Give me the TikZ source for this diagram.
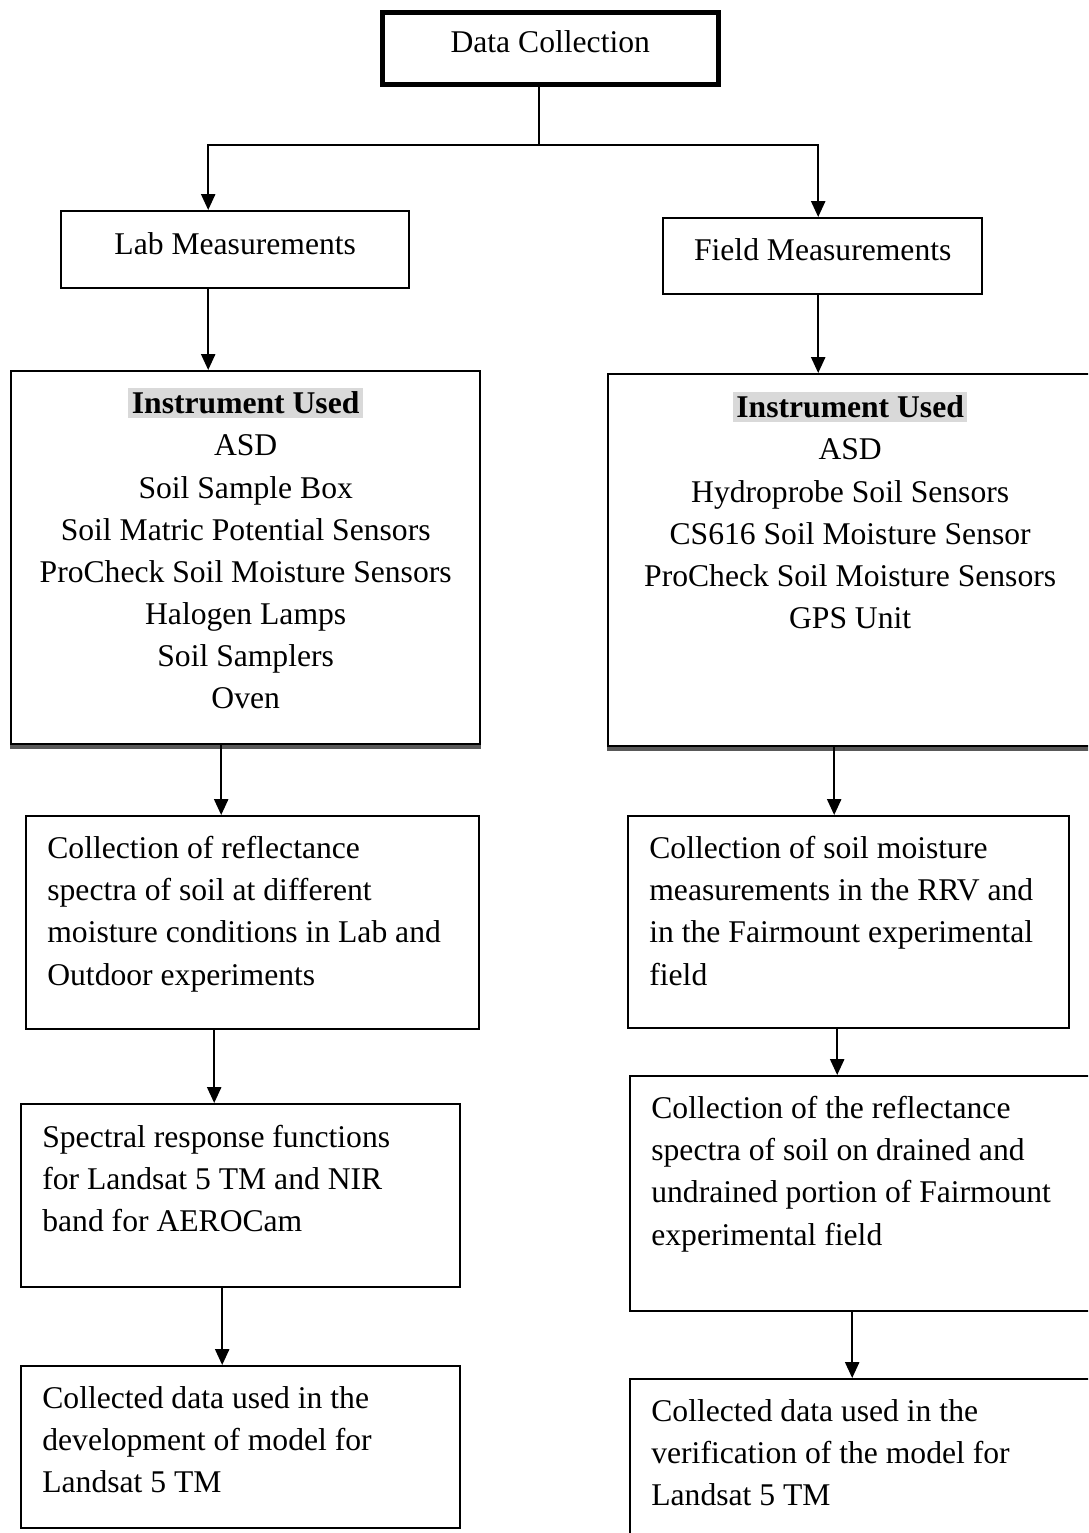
\documentclass[tikz,border=0pt]{standalone}
\usepackage{fontspec}
\setmainfont{Liberation Serif}
\usepackage{tikz}
\usetikzlibrary{arrows.meta}
\setlength{\fboxsep}{2pt}

\begin{document}
\begin{tikzpicture}[x=0.02cm,y=-0.02cm,
    every node/.style={font=\fontsize{18}{24}\selectfont},
    bx/.style={draw,line width=1.4pt,inner sep=0pt,anchor=north west},
    hd/.style={text height=12pt,text depth=7pt},
    tx/.style={align=left,inner sep=0pt,anchor=north west},
    lst/.style={align=center,inner sep=0pt,anchor=north},
    ar/.style={line width=1.1pt,-{Triangle[width=8pt,length=9pt]}},
    shd/.style={line width=2.4pt,black!65}]
    \clip (0,0) rectangle (1088,1533);

    \node[bx,hd,line width=2.6pt,minimum width=6.72cm,minimum height=1.44cm] (top) at (380,10) {Data Collection};
    \node[bx,hd,minimum width=6.96cm,minimum height=1.54cm] (la) at (60,210) {Lab Measurements};
    \node[bx,hd,minimum width=6.38cm,minimum height=1.52cm] (ra) at (662,217) {Field Measurements};
    \node[bx,minimum width=9.38cm,minimum height=7.46cm] (lb) at (10,370) {};
    \node[bx,minimum width=9.68cm,minimum height=7.44cm] (rb) at (607,373) {};
    \node[bx,minimum width=9.06cm,minimum height=4.26cm] (lc) at (25,815) {};
    \node[bx,minimum width=8.82cm,minimum height=4.24cm] (rc) at (627,815) {};
    \node[bx,minimum width=8.78cm,minimum height=3.66cm] (ld) at (20,1103) {};
    \node[bx,minimum width=9.40cm,minimum height=4.70cm] (rd) at (629,1075) {};
    \node[bx,minimum width=8.78cm,minimum height=3.24cm] (le) at (20,1365) {};
    \node[bx,minimum width=9.40cm,minimum height=3.60cm] (re) at (629,1378) {};

    \draw[shd] ([yshift=-1pt]lb.south west) -- ([yshift=-1pt]lb.south east);
    \draw[shd] ([yshift=-1pt]rb.south west) -- ([yshift=-1pt]rb.south east);

    \node[lst] (lbt) at ([yshift=-0.36cm]lb.north) {\colorbox{gray!30}{\bfseries Instrument Used}\\ASD\\Soil Sample Box\\Soil Matric Potential Sensors\\ProCheck Soil Moisture Sensors\\Halogen Lamps\\Soil Samplers\\Oven};
    \node[lst] (rbt) at ([yshift=-0.38cm]rb.north) {\colorbox{gray!30}{\bfseries Instrument Used}\\ASD\\Hydroprobe Soil Sensors\\CS616 Soil Moisture Sensor\\ProCheck Soil Moisture Sensors\\GPS Unit};

    \node[tx] (lct) at ([shift={(0.44cm,-0.42cm)}]lc.north west) {Collection of reflectance\\spectra of soil at different\\moisture conditions in Lab and\\Outdoor experiments};
    \node[tx] (rct) at ([shift={(0.44cm,-0.42cm)}]rc.north west) {Collection of soil moisture\\measurements in the RRV and\\in the Fairmount experimental\\field};
    \node[tx] (ldt) at ([shift={(0.44cm,-0.44cm)}]ld.north west) {Spectral response functions\\for Landsat 5 TM and NIR\\band for AEROCam};
    \node[tx] (rdt) at ([shift={(0.44cm,-0.42cm)}]rd.north west) {Collection of the reflectance\\spectra of soil on drained and\\undrained portion of Fairmount\\experimental field};
    \node[tx] (let) at ([shift={(0.44cm,-0.42cm)}]le.north west) {Collected data used in the\\development of model for\\Landsat 5 TM};
    \node[tx] (ret) at ([shift={(0.44cm,-0.42cm)}]re.north west) {Collected data used in the\\verification of the model for\\Landsat 5 TM};

    \draw[line width=1.1pt] ([xshift=-0.22cm]top.south) -- ++(0,58) coordinate (sp);
    \draw[ar] (sp) -| ([xshift=-0.54cm]la.north);
    \draw[ar] (sp) -| ([xshift=-0.09cm]ra.north);

    \draw[ar] ([xshift=-0.54cm]la.south) -- ([xshift=-0.54cm]la.south |- lb.north);
    \draw[ar] ([xshift=-0.09cm]ra.south) -- ([xshift=-0.09cm]ra.south |- rb.north);
    \draw[ar] ([xshift=-0.49cm]lb.south) -- ([xshift=-0.49cm]lb.south |- lc.north);
    \draw[ar] ([xshift=-0.32cm]rb.south) -- ([xshift=-0.32cm]rb.south |- rc.north);
    \draw[ar] ([xshift=-0.77cm]lc.south) -- ([xshift=-0.77cm]lc.south |- ld.north);
    \draw[ar] ([xshift=-0.23cm]rc.south) -- ([xshift=-0.23cm]rc.south |- rd.north);
    \draw[ar] ([xshift=-0.37cm]ld.south) -- ([xshift=-0.37cm]ld.south |- le.north);
    \draw[ar] ([xshift=-0.26cm]rd.south) -- ([xshift=-0.26cm]rd.south |- re.north);

\end{tikzpicture}
\end{document}
